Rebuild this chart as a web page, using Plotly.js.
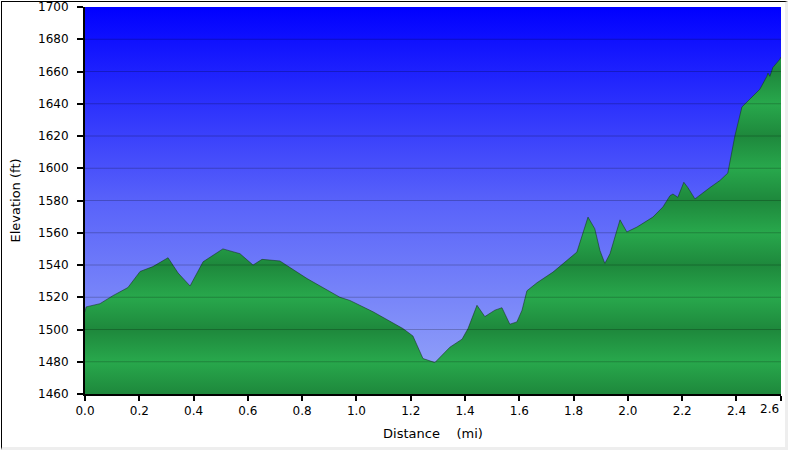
<!DOCTYPE html>
<html>
<head>
<meta charset="utf-8">
<script src="https://cdn.plot.ly/plotly-3.0.1.min.js"></script>
<style>
  html, body { margin: 0; padding: 0; background: #ffffff; }
  #wrap { position: relative; width: 789px; height: 451px; }
  #chart { position: absolute; left: 0; top: 0; width: 789px; height: 451px; }
  #frame { position: absolute; left: 1px; top: 1px; width: 783px; height: 445px;
           border-left: 1px solid #000; border-top: 1px solid #000;
           border-right: 3px solid #eeeeee; border-bottom: 3px solid #eeeeee;
           pointer-events: none; }
</style>
</head>
<body>
<div id="wrap"><div id="chart"></div><div id="frame"></div></div>
<script>
// Distance along the trail (mi)
const distance = [0.000, 0.004, 0.055, 0.103, 0.158, 0.203, 0.250, 0.306, 0.343, 0.387,
  0.435, 0.508, 0.571, 0.619, 0.652, 0.718, 0.818, 0.939, 0.976, 1.061,
  1.171, 1.208, 1.245, 1.289, 1.344, 1.389, 1.411, 1.444, 1.473, 1.510,
  1.536, 1.565, 1.591, 1.610, 1.628, 1.665, 1.724, 1.794, 1.812, 1.853,
  1.878, 1.897, 1.915, 1.934, 1.971, 1.996, 2.033, 2.092, 2.129, 2.155,
  2.166, 2.184, 2.206, 2.221, 2.247, 2.302, 2.339, 2.368, 2.394, 2.420,
  2.450, 2.486, 2.512, 2.516, 2.523, 2.534, 2.560, 2.564];
// Elevation (ft)
const elevation = [1511, 1514, 1516, 1521, 1526, 1536, 1539, 1544.5, 1535, 1527,
  1542, 1550, 1547, 1540, 1543.5, 1542.5, 1531.6, 1520, 1518, 1511,
  1500.6, 1496, 1482, 1479.5, 1489, 1494, 1500.6, 1515, 1508, 1512,
  1513.5, 1503.3, 1504.7, 1512, 1524, 1529, 1535.6, 1545, 1548, 1569.7,
  1562.5, 1549, 1541, 1547, 1568, 1560.5, 1563.5, 1569.7, 1576, 1583,
  1584, 1582, 1591.3, 1588, 1581, 1588, 1592.4, 1597, 1620, 1638,
  1643, 1649, 1657, 1659, 1657, 1662.5, 1667.6, 1669];

const xTickVals = [0, 0.2, 0.4, 0.6, 0.8, 1.0, 1.2, 1.4, 1.6, 1.8, 2.0, 2.2, 2.4, 2.564];
const xTickText = ['0.0', '0.2', '0.4', '0.6', '0.8', '1.0', '1.2', '1.4', '1.6', '1.8', '2.0', '2.2', '2.4', '2.6'];
const yTickVals = [1460, 1480, 1500, 1520, 1540, 1560, 1580, 1600, 1620, 1640, 1660, 1680, 1700];

const Y_MIN = yTickVals[0];
const Y_MAX = yTickVals[yTickVals.length - 1];
const X_MAX = xTickVals[xTickVals.length - 1];
const lastIdx = xTickVals.length - 1;

// banded green gradient (period of two grid bands)
const greenDark = 'rgb(30,136,60)';
const greenLight = 'rgb(40,168,76)';
const nBands = (Y_MAX - Y_MIN) / 20;
const greenScale = [];
for (let i = 0; i <= nBands; i++) {
  greenScale.push([i / nBands, i % 2 === 0 ? greenDark : greenLight]);
}

const sky = {
  x: distance,
  y: distance.map(() => Y_MAX),
  type: 'scatter', mode: 'lines',
  line: { width: 0, color: 'rgba(0,0,0,0)' },
  fill: 'tozeroy',
  fillgradient: {
    type: 'vertical', start: Y_MIN, stop: Y_MAX,
    colorscale: [[0, 'rgb(152,168,248)'], [0.5, 'rgb(88,98,250)'], [1, 'rgb(0,0,255)']]
  },
  hoverinfo: 'skip', showlegend: false
};

const ground = {
  x: distance,
  y: elevation,
  type: 'scatter', mode: 'lines',
  line: { width: 1, color: 'rgba(20,50,30,0.55)' },
  fill: 'tozeroy',
  fillgradient: { type: 'vertical', start: Y_MIN, stop: Y_MAX, colorscale: greenScale },
  showlegend: false
};

const gridShapes = yTickVals.slice(1, -1).map(v => ({
  type: 'line', xref: 'paper', yref: 'y', x0: 0, x1: 1, y0: v, y1: v,
  line: { color: 'rgba(0,0,0,0.22)', width: 1 }, layer: 'above'
}));

const tickFont = { family: '"DejaVu Sans", Verdana, sans-serif', size: 12, color: '#000' };
const titleFont = { family: '"DejaVu Sans", Verdana, sans-serif', size: 13, color: '#000' };

// the last tick sits at the end of the axis; its label is drawn right-aligned to it
const shownTickText = xTickText.map((t, i) => (i === lastIdx ? '' : t));

const layout = {
  width: 789, height: 451,
  margin: { l: 85, r: 8, t: 7, b: 57, pad: 0 },
  paper_bgcolor: '#ffffff',
  plot_bgcolor: '#6a78f8',
  font: tickFont,
  showlegend: false,
  xaxis: {
    range: [0, X_MAX],
    tickvals: xTickVals, ticktext: shownTickText,
    showgrid: false, zeroline: false,
    showline: true, linecolor: '#000', linewidth: 2,
    ticks: 'outside', ticklen: 5, tickwidth: 2, tickcolor: '#000',
    tickfont: tickFont,
    title: { text: 'Distance\u00a0\u00a0\u00a0\u00a0(mi)', font: titleFont, standoff: 11 }
  },
  yaxis: {
    range: [Y_MIN, Y_MAX],
    tickvals: yTickVals,
    showgrid: false, zeroline: false,
    showline: true, linecolor: '#000', linewidth: 2,
    ticks: 'outside', ticklen: 6, tickwidth: 2, tickcolor: '#000',
    ticklabelstandoff: 6,
    tickfont: tickFont,
    title: { text: 'Elevation (ft)', font: titleFont, standoff: 15 }
  },
  shapes: gridShapes,
  annotations: [{
    x: xTickVals[lastIdx], xref: 'x', y: 0, yref: 'paper',
    text: xTickText[lastIdx], showarrow: false,
    xanchor: 'right', yanchor: 'top', xshift: 0, yshift: -6,
    font: tickFont
  }]
};

Plotly.newPlot('chart', [sky, ground], layout, { displayModeBar: false, staticPlot: true });
</script>
</body>
</html>
